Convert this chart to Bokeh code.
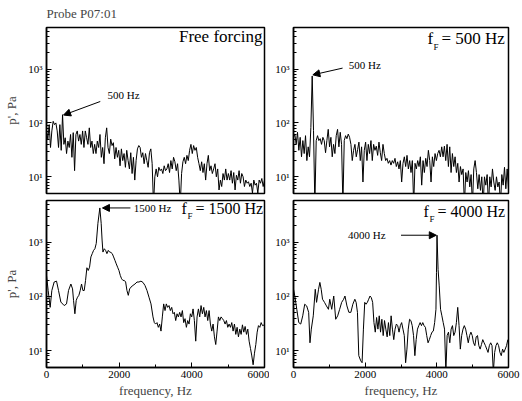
import numpy as np
from bokeh.plotting import figure
from bokeh.layouts import gridplot
from bokeh.models import Range1d, Arrow, NormalHead, Label, FixedTicker
from bokeh.embed import file_html
from bokeh.resources import INLINE
from bokeh.core.properties import value

# ---------------- data (p', Pa vs frequency, Hz) ----------------
TITLE = "Probe P07:01"
PANEL_LABELS = ["Free forcing", "500 Hz", "1500 Hz", "4000 Hz"]
X_TICKS = [0, 2000, 4000, 6000]
Y_TICK_LABELS = {10: "10¹", 100: "10²", 1000: "10³"}

# Free forcing (uniform frequency grid 0..6000 Hz)
TL_VALS = [71, 50, 93, 35, 71, 107, 93, 100, 71, 35,
           93, 31, 142, 40, 53, 27, 46, 35, 61, 23,
           66, 13, 61, 71, 46, 61, 40, 71, 35, 71,
           53, 40, 81, 35, 46, 27, 40, 27, 46, 35,
           61, 23, 35, 17.5, 53, 81, 35, 27, 50, 38,
           43, 21.5, 35, 23, 31, 16, 33, 20, 27, 15,
           31, 20, 14, 28, 11.5, 23, 8.7, 20, 33, 38,
           35, 23, 28, 17.5, 27, 20, 15, 28, 33, 17.5,
           3, 10, 14, 10, 15, 13, 14, 11.5, 16, 13,
           14, 17.5, 12, 20, 14, 23, 19, 13, 17.5, 8.7,
           3, 11.5, 19, 23, 17.5, 25, 20, 31, 40, 27,
           38, 31, 35, 23, 17.5, 13, 19, 12, 17.5, 8.7,
           17.5, 25, 13, 16, 11.5, 14, 17.5, 10, 14, 5.7,
           8.7, 6.6, 11.5, 8.7, 14, 8.7, 11.5, 8.7, 13, 7.6,
           12, 5.7, 10.7, 8.7, 13, 7.6, 11.5, 10, 6.6, 8.7,
           7.6, 8.1, 6.6, 7.6, 5, 8.7, 7, 7.6, 5, 8.7,
           7.6, 9.3, 6.6, 8.7]

# f_F = 500 Hz (uniform frequency grid 0..6000 Hz)
TR_VALS = [54, 62, 40, 67, 31, 54, 23.5, 47, 27, 58,
           20, 36, 23.5, 82, 740, 72, 3, 47, 58, 47,
           51, 40, 54, 47, 28, 47, 76, 36, 54, 23.5,
           40, 27, 58, 76, 36, 67, 40, 3, 47, 58,
           51, 62, 54, 40, 20, 31, 40, 23.5, 32, 44,
           20, 36, 8, 31, 44, 20, 40, 27, 47, 20,
           40, 31, 37, 25, 44, 28, 20, 40, 27, 20,
           22, 17.8, 20, 16.5, 20, 17.8, 22, 15.5, 19, 14,
           20, 8, 17.8, 23.5, 15.5, 25, 14, 20, 12, 20,
           3, 17.8, 14, 20, 15.5, 23.5, 7, 20, 12, 22,
           15.5, 31, 20, 8, 23.5, 15.5, 27, 20, 27, 31,
           23.5, 36, 23.5, 37, 20, 40, 15.5, 36, 12, 27,
           15.5, 23.5, 12, 17.8, 8, 15.5, 11, 14, 3, 12,
           8, 13, 6.5, 11, 3, 14, 20, 12, 6, 11,
           5.6, 10, 3, 10, 7, 11, 3, 10, 6.5, 14,
           8, 5.6, 10, 6.5, 8, 3, 11, 7, 15, 6,
           14, 6]

# f_F = 1500 Hz
BL_FREQ = [0, 46, 101, 147, 211, 276, 331, 395, 487, 551,
           606, 671, 717, 744, 781, 818, 854, 891, 928, 965,
           1002, 1038, 1075, 1112, 1149, 1185, 1222, 1259, 1296, 1332,
           1369, 1415, 1468, 1505, 1530, 1553, 1590, 1626, 1663, 1700,
           1737, 1773, 1810, 1847, 1884, 1920, 1957, 1994, 2031, 2067,
           2104, 2141, 2178, 2214, 2251, 2288, 2325, 2380, 2435, 2490,
           2545, 2600, 2655, 2710, 2766, 2821, 2876, 2931, 2968, 3004,
           3041, 3078, 3115, 3151, 3188, 3225, 3262, 3298, 3335, 3372,
           3409, 3446, 3482, 3519, 3556, 3593, 3629, 3666, 3703, 3740,
           3776, 3813, 3850, 3887, 3923, 3960, 3997, 4034, 4070, 4107,
           4144, 4181, 4217, 4254, 4291, 4328, 4364, 4401, 4438, 4475,
           4511, 4548, 4585, 4622, 4658, 4695, 4732, 4769, 4805, 4842,
           4879, 4916, 4952, 4989, 5026, 5063, 5099, 5136, 5173, 5210,
           5246, 5283, 5320, 5357, 5393, 5430, 5467, 5504, 5540, 5577,
           5614, 5651, 5687, 5724, 5761, 5798, 5834, 5871, 5908, 5945,
           6000]
BL_VALS = [245, 129, 63, 129, 185, 192, 129, 79, 68, 73,
           129, 170, 138, 85, 48, 85, 97, 105, 129, 170,
           129, 129, 198, 339, 302, 347, 537, 617, 710, 760,
           950, 2240, 4300, 2240, 1100, 660, 760, 710, 617, 710,
           660, 650, 617, 537, 464, 400, 347, 302, 245, 212,
           198, 198, 185, 129, 105, 138, 149, 160, 170, 185,
           185, 192, 182, 160, 129, 97, 73, 42, 33, 31,
           33, 27, 31, 23, 42, 73, 55, 73, 63, 68,
           55, 63, 48, 51, 36, 48, 42, 51, 42, 55,
           33, 39, 27, 36, 31, 48, 42, 59, 36, 15,
           42, 59, 42, 68, 48, 63, 42, 55, 36, 55,
           31, 23, 31, 18, 13, 23, 42, 36, 42, 39,
           36, 31, 36, 27, 31, 27, 33, 23, 31, 20,
           27, 18, 25, 20, 30, 22, 28, 20, 25, 15,
           11, 8, 5.5, 9, 13, 22, 29, 27, 33, 29,
           30]

# f_F = 4000 Hz
BR_FREQ = [0, 37, 92, 147, 202, 258, 313, 368, 423, 460,
           497, 552, 607, 644, 699, 736, 773, 810, 865, 920,
           975, 1012, 1067, 1123, 1178, 1233, 1288, 1344, 1399, 1436,
           1491, 1546, 1601, 1656, 1712, 1748, 1785, 1822, 1877, 1914,
           1951, 1988, 2025, 2061, 2098, 2135, 2172, 2209, 2245, 2282,
           2319, 2356, 2393, 2429, 2466, 2503, 2540, 2577, 2614, 2650,
           2687, 2724, 2761, 2798, 2834, 2871, 2908, 2945, 2982, 3018,
           3055, 3092, 3129, 3166, 3202, 3239, 3276, 3313, 3350, 3387,
           3423, 3460, 3497, 3534, 3571, 3607, 3644, 3681, 3718, 3755,
           3791, 3828, 3865, 3902, 3939, 3975, 3990, 4005, 4035, 4067,
           4104, 4141, 4178, 4215, 4252, 4288, 4325, 4362, 4399, 4436,
           4472, 4509, 4546, 4583, 4620, 4656, 4693, 4730, 4767, 4804,
           4840, 4877, 4914, 4951, 4988, 5024, 5061, 5098, 5135, 5172,
           5209, 5245, 5282, 5319, 5356, 5393, 5429, 5466, 5503, 5540,
           5577, 5614, 5650, 5687, 5724, 5761, 5798, 5835, 5871, 5908,
           5945, 5982]
BR_VALS = [136, 102, 58, 33, 31, 44, 72, 67, 51, 14,
           25, 44, 136, 78, 136, 182, 136, 89, 78, 67,
           58, 89, 58, 102, 38, 44, 58, 78, 89, 102,
           67, 51, 51, 72, 89, 78, 51, 8.1, 6.5, 6,
           25, 78, 72, 78, 89, 102, 95, 78, 33, 22,
           41, 25, 44, 22, 38, 19, 36, 25, 18, 33,
           19, 44, 25, 16, 25, 31, 29, 22, 29, 33,
           25, 19, 6, 10.7, 25, 38, 36, 29, 19, 8.1,
           16, 25, 29, 33, 29, 33, 29, 27, 19, 14,
           16, 19, 22, 23, 33, 58, 275, 1350, 316, 157,
           58, 44, 33, 25, 4, 19, 22, 14, 25, 29,
           19, 22, 33, 63, 29, 10.7, 19, 25, 29, 25,
           19, 14, 19, 22, 19, 14, 12.4, 18, 19, 12.4,
           10.7, 13, 16, 14, 12.4, 10.7, 9.3, 12.4, 14, 12.4,
           4, 9.3, 12.4, 14, 12.4, 9.3, 8.1, 10.7, 9.3, 10.7,
           12.4, 16]

# peak annotations: (text x, text y, arrow start x, start y, arrow tip x, tip y)
TL_ANN = (1680, 330, 1480, 250, 470, 140)
TR_ANN = (1540, 1180, 1370, 1040, 540, 780)
BL_ANN = (2400, 4300, 2310, 4300, 1540, 4300)
BR_ANN = (1520, 1350, 3000, 1350, 3985, 1350)

SERIF = "Liberation Serif"


def panel(freq, vals, w, h, bl, br, bt, bb, xlabels, ylabel):
    p = figure(width=w, height=h, y_axis_type="log",
               x_range=Range1d(0, 6000), y_range=Range1d(4.9, 5900),
               output_backend="svg", toolbar_location=None,
               min_border_left=bl, min_border_right=br,
               min_border_top=bt, min_border_bottom=bb)
    p.grid.visible = False
    p.outline_line_color = "black"
    p.outline_line_width = 1.5
    p.background_fill_color = "white"
    p.border_fill_color = "white"
    p.line(freq, vals, line_color="black", line_width=1)
    for ax in (p.xaxis[0], p.yaxis[0]):
        ax.axis_line_width = 1.5
        ax.major_tick_in = 5
        ax.major_tick_out = 0
        ax.minor_tick_in = 3
        ax.minor_tick_out = 0
        ax.major_label_text_font = SERIF
        ax.major_label_text_font_size = "11px"
        ax.major_label_text_color = "black"
        ax.axis_label_text_font = SERIF
        ax.axis_label_text_font_style = "normal"
        ax.axis_label_text_font_size = "13px"
    p.xaxis.ticker = FixedTicker(ticks=X_TICKS, minor_ticks=[1000, 3000, 5000])
    p.yaxis.major_label_overrides = Y_TICK_LABELS
    p.yaxis.major_label_standoff = 4
    if xlabels:
        p.xaxis.axis_label = "frequency, Hz"
        p.xaxis.major_label_standoff = 3
        p.xaxis.axis_label_standoff = 2
    else:
        p.xaxis.visible = False
    if ylabel:
        p.yaxis.axis_label = "p', Pa"
        p.yaxis.axis_label_standoff = 6
    return p


def add_ann(p, ann, txt):
    tx, ty, sx, sy, ex, ey = ann
    p.add_layout(Arrow(end=NormalHead(size=7, fill_color="black", line_color="black"),
                       x_start=sx, y_start=sy, x_end=ex, y_end=ey,
                       line_color="black", line_width=1))
    p.text(x=[tx], y=[ty], text=[txt], text_font=value(SERIF), text_font_size="11px",
           text_baseline="middle", text_align="left", text_color="black")


def forcing_label(p, fx, fy, txt, size=17):
    p.add_layout(Label(x=fx, y=fy, x_units="screen", y_units="screen", text="f",
                       text_font=SERIF, text_font_size=f"{size}px", text_color="black"))
    p.add_layout(Label(x=fx + 6, y=fy - 4, x_units="screen", y_units="screen", text="F",
                       text_font=SERIF, text_font_size="9px", text_color="black"))
    p.add_layout(Label(x=fx + 14, y=fy, x_units="screen", y_units="screen", text="= " + txt,
                       text_font=SERIF, text_font_size=f"{size}px", text_color="black"))


tl = panel(np.linspace(0, 6000, len(TL_VALS)), TL_VALS, 269, 197, 46, 5, 25, 4, False, True)
tr = panel(np.linspace(0, 6000, len(TR_VALS)), TR_VALS, 253, 197, 24, 14, 25, 4, False, False)
bl = panel(BL_FREQ, BL_VALS, 269, 204, 46, 5, 3, 34, True, True)
br = panel(BR_FREQ, BR_VALS, 253, 204, 24, 14, 3, 34, True, False)

tl.title.text = TITLE
tl.title.text_font = SERIF
tl.title.text_font_style = "normal"
tl.title.text_font_size = "13px"
tl.title.vertical_align = "top"

add_ann(tl, TL_ANN, "500 Hz")
add_ann(tr, TR_ANN, "500 Hz")
add_ann(bl, BL_ANN, "1500 Hz")
add_ann(br, BR_ANN, "4000 Hz")

tl.add_layout(Label(x=216, y=148, x_units="screen", y_units="screen", text=PANEL_LABELS[0],
                    text_align="right", text_font=SERIF, text_font_size="17px", text_color="black"))
forcing_label(tr, 134, 146, PANEL_LABELS[1])
forcing_label(bl, 135, 151, PANEL_LABELS[2], size=16)
forcing_label(br, 130, 148, PANEL_LABELS[3], size=16)

grid = gridplot([[tl, tr], [bl, br]], toolbar_location=None)

with open("out.html", "w") as f:
    f.write(file_html(grid, INLINE))
